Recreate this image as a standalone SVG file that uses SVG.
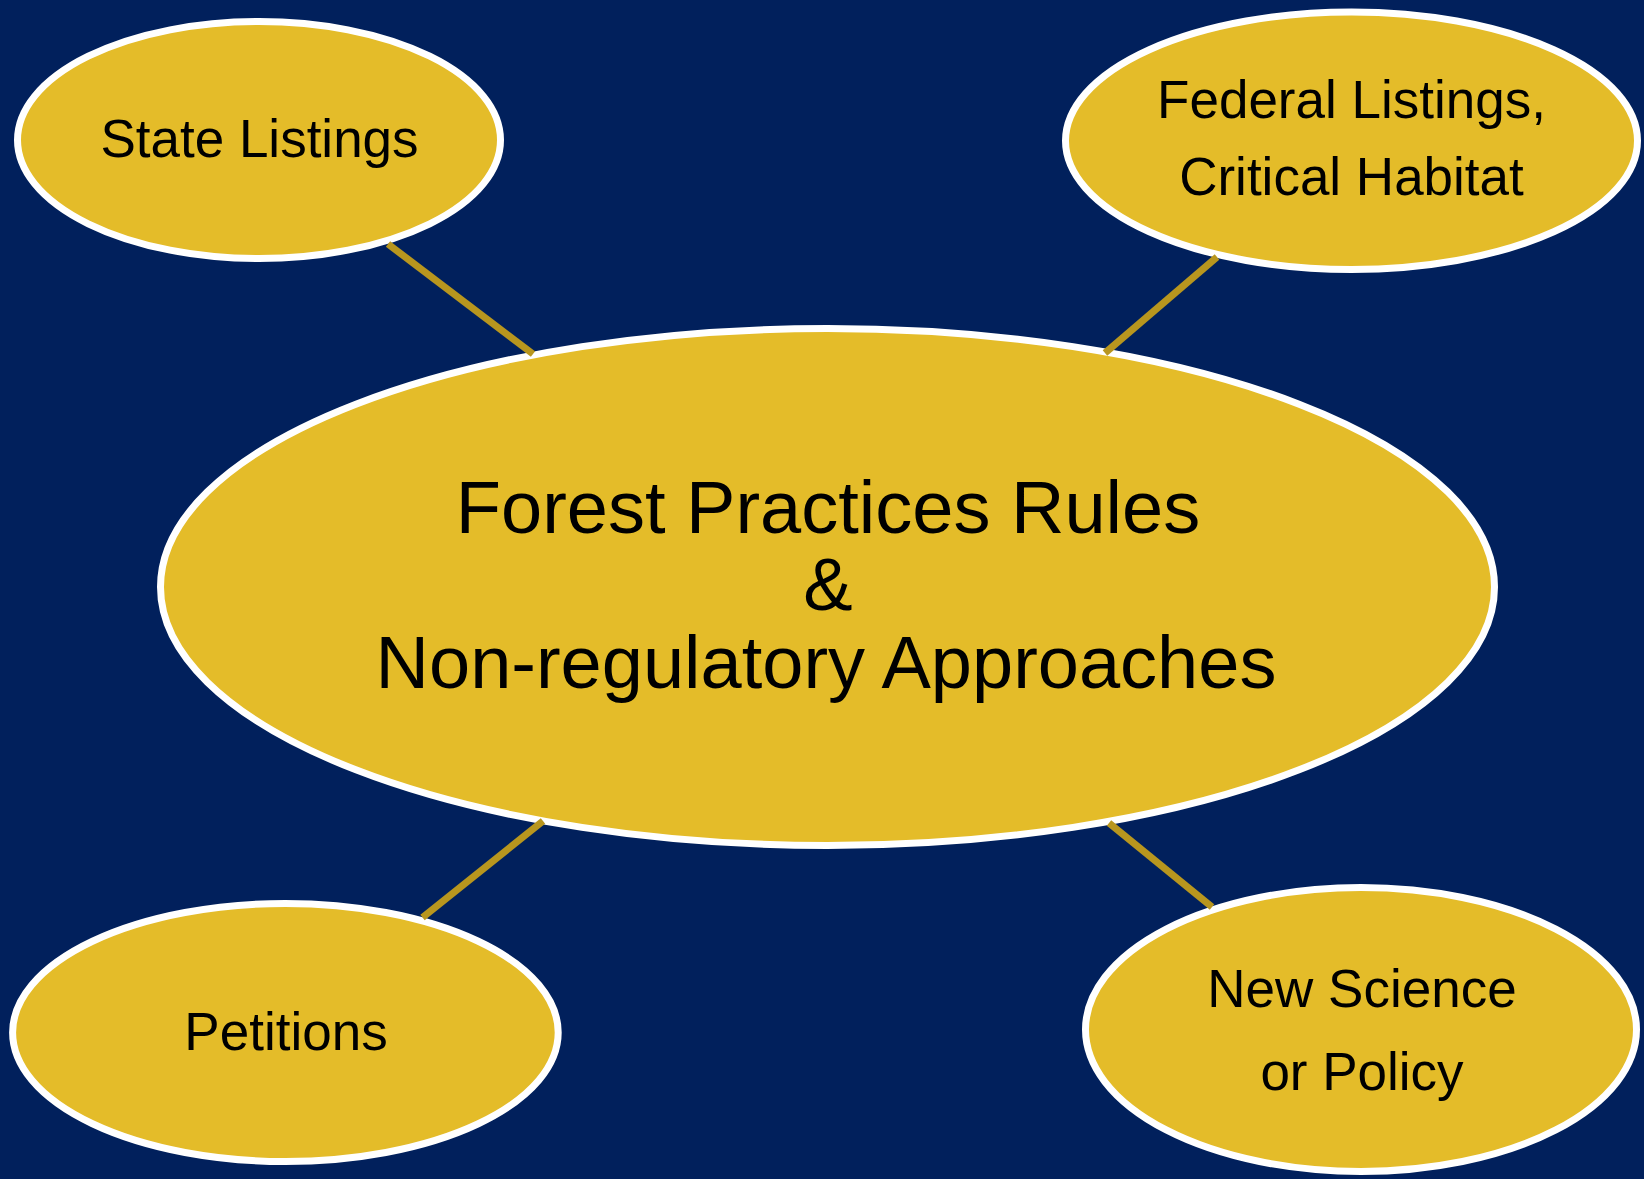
<svg xmlns="http://www.w3.org/2000/svg" width="1644" height="1179" viewBox="0 0 1644 1179">
<style>
.node{fill:#E4BC29;stroke:#FFFFFF;stroke-width:7}
.lbl{font-family:"Liberation Sans",Arial,sans-serif;font-size:53px;fill:#000000;text-anchor:middle}
.big{font-family:"Liberation Sans",Arial,sans-serif;font-size:74px;fill:#000000;text-anchor:middle}
.conn{stroke:#B8961E;stroke-width:7;stroke-linecap:butt;fill:none}
</style>
<rect x="0" y="0" width="1644" height="1179" fill="#01205C"/>
<g id="center">
<ellipse class="node" cx="827.5" cy="587" rx="667" ry="258.5"/>
<text class="big" x="828" y="533">Forest Practices Rules</text>
<text class="big" x="828" y="610">&amp;</text>
<text class="big" x="826" y="688">Non-regulatory Approaches</text>
</g>
<g id="state">
<ellipse class="node" cx="259" cy="140" rx="241.5" ry="118.5"/>
<text class="lbl" x="259.5" y="157">State Listings</text>
</g>
<g id="federal">
<ellipse class="node" cx="1351.5" cy="140.75" rx="286" ry="128.75"/>
<text class="lbl" x="1351.5" y="118">Federal Listings,</text>
<text class="lbl" x="1351.5" y="195">Critical Habitat</text>
</g>
<g id="petitions">
<ellipse class="node" cx="285.4" cy="1032.5" rx="272.8" ry="129"/>
<text class="lbl" x="286" y="1050">Petitions</text>
</g>
<g id="science">
<ellipse class="node" cx="1361" cy="1029.5" rx="275.5" ry="142"/>
<text class="lbl" x="1362" y="1007">New Science</text>
<text class="lbl" x="1362" y="1090">or Policy</text>
</g>
<g id="connectors">
<line class="conn" x1="388" y1="244" x2="533" y2="354"/>
<line class="conn" x1="1217" y1="257" x2="1105" y2="353"/>
<line class="conn" x1="543" y1="821" x2="422.5" y2="917.5"/>
<line class="conn" x1="1109" y1="823" x2="1212" y2="907"/>
</g>
</svg>
